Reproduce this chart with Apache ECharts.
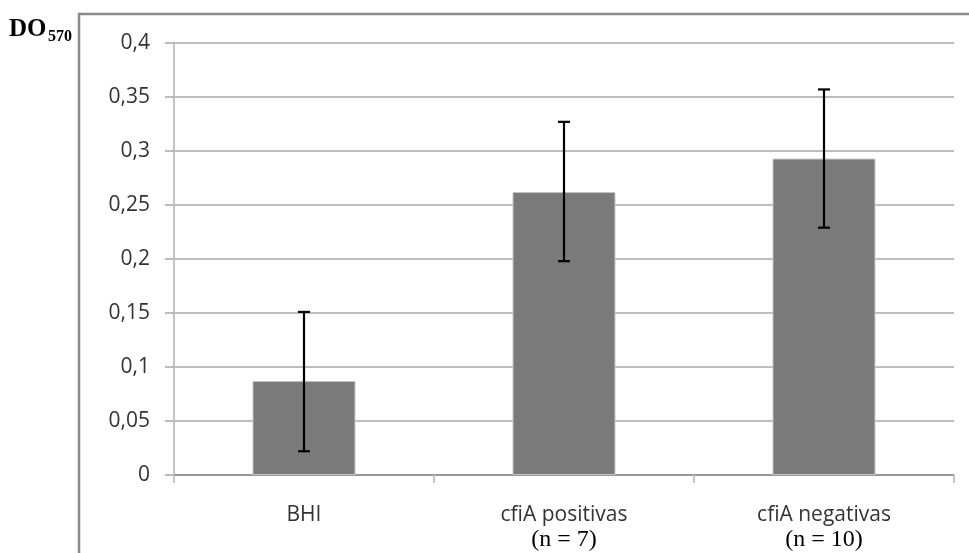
<!DOCTYPE html>
<html>
<head>
<meta charset="utf-8">
<script src="https://cdn.jsdelivr.net/npm/echarts@6/dist/echarts.min.js"></script>
<style>
  html, body { margin: 0; padding: 0; background: #fff; }
  #main { width: 969px; height: 553px; }
</style>
</head>
<body>
<div id="main"></div>
<script>
// categories, n shown under the label (null = none)
let categories = ['BHI', 'cfiA positivas', 'cfiA negativas'];
let sampleSize = [null, '(n = 7)', '(n = 10)'];
// mean DO570 and error bar ends
let means = [0.087, 0.262, 0.293];
let errLow = [0.022, 0.198, 0.229];
let errHigh = [0.151, 0.327, 0.357];
let yTicks = {min: 0, max: 0.4, step: 0.05};

let chart = echarts.init(document.getElementById('main'));

let labelOf = {};
categories.forEach((c, i) => {
    labelOf[c] = sampleSize[i] ? '{a|' + c + '}\n{b|' + sampleSize[i] + '}' : '{a|' + c + '}';
});

let errData = categories.map((c, i) => [i, errLow[i], errHigh[i]]);

chart.setOption({
    animation: false,
    grid: {left: 174, right: 15, top: 43, bottom: 78},
    graphic: [
        {
            type: 'rect',
            shape: {x: 79, y: 14, width: 1000, height: 1000},
            style: {fill: 'none', stroke: '#8a8a8a', lineWidth: 2.5}
        },
        {
            type: 'text', left: 9, top: 17,
            style: {text: 'DO', fontFamily: 'Liberation Serif', fontWeight: 'bold', fontSize: 25, fill: '#000'}
        },
        {
            type: 'text', left: 48, top: 29,
            style: {text: '570', fontFamily: 'Liberation Serif', fontWeight: 'bold', fontSize: 16, fill: '#000'}
        }
    ],
    xAxis: {
        type: 'category',
        data: categories,
        boundaryGap: true,
        axisLine: {lineStyle: {color: '#8c8c8c', width: 1.5}},
        axisTick: {show: true, length: 8, lineStyle: {color: '#c4c4c4', width: 2}},
        axisLabel: {
            margin: 28,
            formatter: v => labelOf[v],
            rich: {
                a: {fontFamily: 'Open Sans', fontSize: 21, color: '#333', lineHeight: 24},
                b: {fontFamily: 'Liberation Serif', fontSize: 24, color: '#000', lineHeight: 26}
            }
        }
    },
    yAxis: {
        type: 'value',
        min: yTicks.min,
        max: yTicks.max,
        interval: yTicks.step,
        axisLine: {show: true, lineStyle: {color: '#c4c4c4', width: 2}},
        axisTick: {show: true, length: 9, lineStyle: {color: '#a8a8a8', width: 1.5}},
        splitLine: {lineStyle: {color: '#a8a8a8', width: 1.5}},
        axisLabel: {
            margin: 24,
            fontFamily: 'Open Sans',
            fontSize: 21,
            color: '#333',
            formatter: v => String(+v.toFixed(2)).replace('.', ',')
        }
    },
    series: [
        {
            type: 'bar',
            data: means,
            barWidth: '39.6%',
            itemStyle: {color: '#7a7a7a', borderColor: '#c4c4c4', borderWidth: 1}
        },
        {
            type: 'custom',
            data: errData,
            z: 10,
            renderItem: function (params, api) {
                let x = api.value(0);
                let lo = api.coord([x, api.value(1)]);
                let hi = api.coord([x, api.value(2)]);
                let cap = 6;
                let st = {stroke: '#000', lineWidth: 2.2};
                return {
                    type: 'group',
                    children: [
                        {type: 'line', shape: {x1: hi[0], y1: hi[1], x2: lo[0], y2: lo[1]}, style: st},
                        {type: 'line', shape: {x1: hi[0] - cap, y1: hi[1], x2: hi[0] + cap, y2: hi[1]}, style: st},
                        {type: 'line', shape: {x1: lo[0] - cap, y1: lo[1], x2: lo[0] + cap, y2: lo[1]}, style: st}
                    ]
                };
            }
        }
    ]
});
</script>
</body>
</html>
